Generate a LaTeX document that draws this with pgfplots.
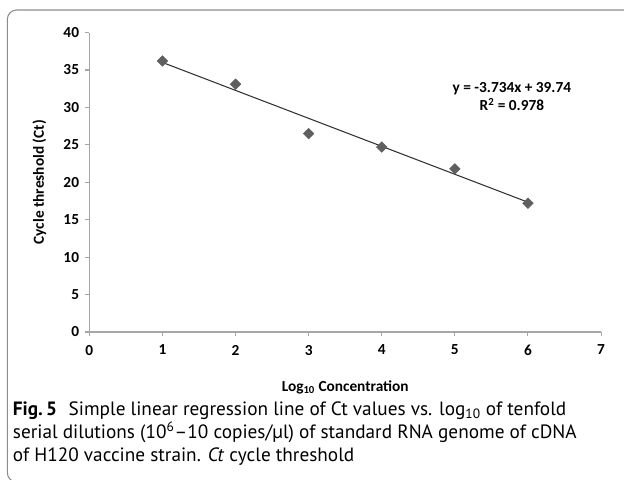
\documentclass[border=0pt]{standalone}
\usepackage{pgfplots}
\pgfplotsset{compat=1.18}
\usepackage{fontspec}
\setmainfont{PT Sans}
\newfontfamily\chartfont{Carlito}
\definecolor{axisgray}{HTML}{A6A6A6}
\definecolor{markgray}{HTML}{5F5F5F}
\definecolor{framegray}{HTML}{8C8C8C}
\begin{document}
\begin{tikzpicture}
\useasboundingbox (0,0) rectangle (468pt,-359.25pt);
\begin{scope}
\clip (0,0) rectangle (468pt,-359.25pt);
\draw[framegray, line width=0.8pt, rounded corners=7pt] (5.5pt,-7.5pt) rectangle (490pt,-361.5pt);
\end{scope}
\begin{axis}[
  at={(67pt,-249pt)}, anchor=south west,
  scale only axis, width=383.8pt, height=224.6pt,
  xmin=0, xmax=7, ymin=0, ymax=40,
  xtick={0,...,7}, ytick={0,5,...,40},
  axis x line=bottom, axis y line=left,
  axis line style={axisgray, line width=0.8pt, -},
  every tick/.style={axisgray, line width=0.8pt},
  tick align=outside, major tick length=3.2pt,
  tick label style={font=\chartfont\bfseries\fontsize{11.5}{13}\selectfont},
  xticklabel style={yshift=-3pt},
  yticklabel style={xshift=-1pt},
  /pgf/number format/assume math mode=true,
  xlabel={Log\textsubscript{10} Concentration},
  ylabel={Cycle threshold (Ct)},
  label style={font=\chartfont\bfseries\fontsize{11.5}{13}\selectfont},
  ylabel style={at={(axis description cs:-0.0977,0.5)}, anchor=center},
  xlabel style={at={(axis description cs:0.5,-0.1837)}, anchor=center},
  clip=false,
]
\addplot[only marks, mark=square*, mark size=2.8pt, mark options={rotate=45, fill=markgray, draw=markgray}] coordinates {
  (1,36.2) (2,33.1) (3,26.5) (4,24.7) (5,21.8) (6,17.2)
};
\addplot[color=black!80, line width=0.8pt] coordinates {(1,36.006) (6,17.336)};
\node[font=\chartfont\bfseries\fontsize{11.5}{14}\selectfont, align=center] at (axis cs:5.78,31.45) {y = -3.734x + 39.74\\R\textsuperscript{2} = 0.978};
\end{axis}
\node[anchor=west, align=left, font=\fontsize{14.45}{17.2}\selectfont, inner sep=0pt] at (9.5pt,-325.5pt) {\textbf{Fig.\,5}\hspace{0.6em}Simple linear regression line of Ct values vs. log\textsubscript{10} of tenfold\\serial dilutions (10\textsuperscript{6}--10 copies/µl) of standard RNA genome of cDNA\\of H120 vaccine strain. \textit{Ct} cycle threshold};
\end{tikzpicture}
\end{document}
